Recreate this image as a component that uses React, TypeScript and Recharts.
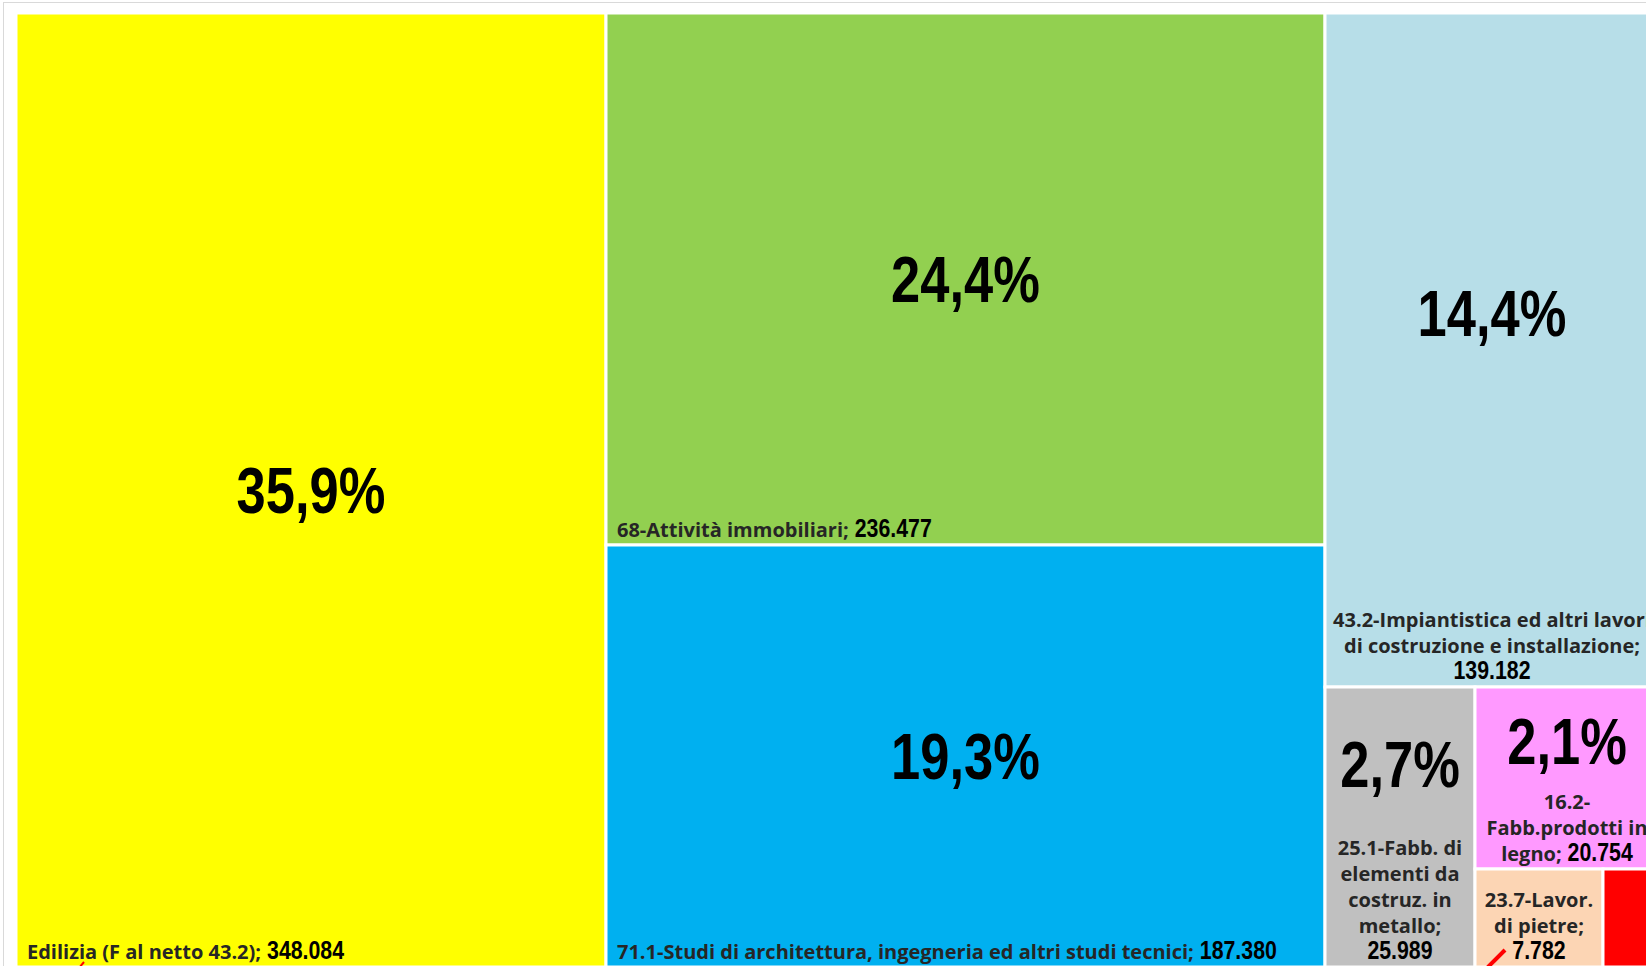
import React from 'react';
import { Treemap } from 'recharts';

const categories = [
  'Edilizia (F al netto 43.2)',
  '68-Attività immobiliari',
  '71.1-Studi di architettura, ingegneria ed altri studi tecnici',
  '43.2-Impiantistica ed altri lavori di costruzione e installazione',
  '25.1-Fabb. di elementi da costruz. in metallo',
  '16.2-Fabb.prodotti in legno',
  '23.7-Lavor. di pietre',
  'Altro',
];
const values = [348084, 236477, 187380, 139182, 25989, 20754, 7782, 3400];
const percentLabels = ['35,9%', '24,4%', '19,3%', '14,4%', '2,7%', '2,1%', '', ''];
const valueLabels = ['348.084', '236.477', '187.380', '139.182', '25.989', '20.754', '7.782', ''];
const labelLines: string[][] = [
  ['Edilizia (F al netto 43.2);'],
  ['68-Attività immobiliari;'],
  ['71.1-Studi di architettura, ingegneria ed altri studi tecnici;'],
  ['43.2-Impiantistica ed altri lavori', 'di costruzione e installazione;'],
  ['25.1-Fabb. di', 'elementi da', 'costruz. in', 'metallo;'],
  ['16.2-', 'Fabb.prodotti in', 'legno;'],
  ['23.7-Lavor.', 'di pietre;'],
  [],
];
const valueOnOwnLine = [false, false, false, true, true, false, true, false];
const colors = ['#FFFF00', '#92D050', '#00B0F0', '#B7DEE8', '#C0C0C0', '#FF99FF', '#FCD5B4', '#FF0000'];

const data = categories.map((name, i) => ({
  name,
  size: values[i],
  color: colors[i],
  pct: percentLabels[i],
  valueText: valueLabels[i],
  lines: labelLines[i],
  ownLine: valueOnOwnLine[i],
}));

const NARROW = "'Liberation Sans', Arial, sans-serif";
const LABEL = "'Open Sans', 'Noto Sans', sans-serif";
const LINE_H = 26;
const PAD_B = 8;
const LABEL_SIZE = 20;
const VALUE_SIZE = 26;
const PCT_SIZE = 64;
const SQUEEZE = 0.82;
const LABEL_COLOR = '#262626';

let ctx: CanvasRenderingContext2D | null = null;
function measure(text: string, font: string): number {
  if (!ctx) ctx = document.createElement('canvas').getContext('2d');
  if (!ctx) return text.length * 10;
  ctx.font = font;
  return ctx.measureText(text).width;
}
const labelW = (t: string) => measure(t, `700 ${LABEL_SIZE}px 'Open Sans'`);
const valueW = (t: string) => measure(t, `700 ${VALUE_SIZE}px 'Liberation Sans'`) * SQUEEZE;

function ValueText({ x, y, text }: { x: number; y: number; text: string }) {
  return (
    <text
      transform={`translate(${x},${y}) scale(${SQUEEZE},1)`}
      x={0}
      y={0}
      fontFamily={NARROW}
      fontWeight={700}
      fontSize={VALUE_SIZE}
      fill="#000"
      stroke="none"
    >
      {text}
    </text>
  );
}

function Line({ startX, base, label, value, keyName }: any) {
  const lw = labelW(label);
  return (
    <g key={keyName}>
      <text x={startX} y={base} fontFamily={LABEL} fontWeight={700} fontSize={LABEL_SIZE} fill={LABEL_COLOR} stroke="none">
        {label}
      </text>
      {value ? <ValueText x={startX + lw + 6} y={base} text={value} /> : null}
    </g>
  );
}

function Tile(props: any) {
  const { x, y, width, height, depth, color, pct, valueText, lines, ownLine } = props;
  if (depth !== 1 || !lines) return null;
  const bottom = y + height;
  const lastBase = bottom - PAD_B;
  const single = lines.length === 1 && !ownLine;
  const n = lines.length + (ownLine ? 1 : 0);
  const cx = x + width / 2;
  let cy = y + height / 2;
  if (!single && n > 0) {
    const blockTop = lastBase - (n - 1) * LINE_H - 14;
    cy = (y + blockTop) / 2;
  }
  const texts: any[] = [];
  if (single) {
    texts.push(<Line key="l" startX={x + 11} base={lastBase} label={lines[0]} value={valueText} />);
  } else {
    lines.forEach((ln: string, j: number) => {
      const base = lastBase - (n - 1 - j) * LINE_H;
      const isLast = j === lines.length - 1;
      const v = isLast && !ownLine ? valueText : '';
      const total = labelW(ln) + (v ? 6 + valueW(v) : 0);
      texts.push(<Line key={'l' + j} startX={cx - total / 2} base={base} label={ln} value={v} />);
    });
    if (ownLine) {
      texts.push(<ValueText key="v" x={cx - valueW(valueText) / 2} y={lastBase} text={valueText} />);
    }
  }
  return (
    <g>
      <rect x={x} y={y} width={width} height={height} fill={color} stroke="#ffffff" strokeWidth={3} />
      {pct ? (
        <text
          transform={`translate(${cx},${cy + 23}) scale(${SQUEEZE},1)`}
          x={0}
          y={0}
          textAnchor="middle"
          fontFamily={NARROW}
          fontWeight={700}
          fontSize={PCT_SIZE}
          fill="#000"
          stroke="none"
        >
          {pct}
        </text>
      ) : null}
      {texts}
    </g>
  );
}

export default function App() {
  return (
    <div style={{ position: 'fixed', left: 0, top: 0, width: 1646, height: 966, overflow: 'hidden', background: '#fff' }}>
      <div style={{ position: 'absolute', left: 3, top: 2, width: 1700, height: 1000, border: '1px solid #d9d9d9', boxSizing: 'border-box' }} />
      <div style={{ position: 'absolute', left: 16, top: 13 }}>
        <Treemap
          width={1643}
          height={954}
          data={data}
          dataKey="size"
          nameKey="name"
          aspectRatio={1}
          isAnimationActive={false}
          content={<Tile />}
        />
      </div>
      <svg style={{ position: 'absolute', left: 0, top: 0, pointerEvents: 'none' }} width={1646} height={966}>
        <line x1={1487} y1={968} x2={1505} y2={950} stroke="#FF0000" strokeWidth={4} />
        <line x1={79} y1={968} x2={84} y2={962} stroke="#FF0000" strokeWidth={2} />
      </svg>
    </div>
  );
}
